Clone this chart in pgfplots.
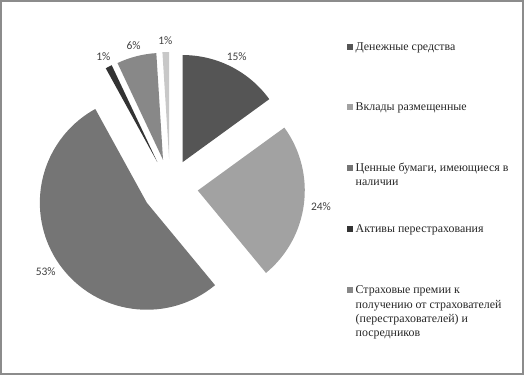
\documentclass[border=0pt]{standalone}
\usepackage{pgfplots}
\pgfplotsset{compat=1.18}
\usepackage{pgfplotstable}
\usepackage{fontspec}
\setmainfont{Liberation Serif}
\newfontfamily\labelfont{Carlito}
\definecolor{c1}{HTML}{555555}
\definecolor{c2}{HTML}{A2A2A2}
\definecolor{c3}{HTML}{757575}
\definecolor{c4}{HTML}{333333}
\definecolor{c5}{HTML}{888888}
\definecolor{c6}{HTML}{C8C8C8}
\definecolor{labelgray}{HTML}{404040}
\definecolor{textgray}{HTML}{262626}
\definecolor{framegray}{HTML}{8C8C8C}

\pgfplotstableread{
value col
15 c1
24 c2
53 c3
1 c4
6 c5
1 c6
}\piedata

\begin{document}
\begin{tikzpicture}
\begin{axis}[scale only axis, width=524pt, height=375pt,
  xmin=0, xmax=524, ymin=0, ymax=375, hide axis, clip=false]
\draw[framegray, line width=2pt] (axis cs:1,1) rectangle (axis cs:523,374);
\pgfplotstablegetrowsof{\piedata}
\pgfmathtruncatemacro{\N}{\pgfplotsretval-1}
\def\cum{0}
\pgfplotsforeachungrouped \i in {0,...,\N}{%
  \pgfplotstablegetelem{\i}{value}\of\piedata \let\v\pgfplotsretval
  \pgfplotstablegetelem{\i}{col}\of\piedata \let\c\pgfplotsretval
  \pgfmathsetmacro{\a}{90-3.6*\cum}%
  \pgfmathsetmacro{\b}{90-3.6*(\cum+\v)}%
  \pgfmathsetmacro{\m}{(\a+\b)/2}%
  \pgfmathsetmacro{\an}{\m+180}%
  \pgfmathsetmacro{\vx}{170+28*cos(\m)}%
  \pgfmathsetmacro{\vy}{188+28*sin(\m)}%
  \edef\temp{%
    \noexpand\fill[\c] (axis cs:\vx,\vy) -- ++(\a:107pt) arc[start angle=\a, end angle=\b, radius=107pt] -- cycle;
    \noexpand\path (axis cs:\vx,\vy) ++(\m:113pt) node[anchor=\an, inner sep=1pt, text=labelgray, font=\noexpand\labelfont\noexpand\fontsize{11.5}{13}\noexpand\selectfont] {\v\noexpand\%};
  }%
  \temp
  \pgfmathsetmacro{\cum}{\cum+\v}%
}
% legend
\newcommand{\legentry}[3]{%
  \fill[#1] (axis cs:347,#2-3) rectangle (axis cs:353,#2+3);
  \node[anchor=base west, inner sep=0pt, text=textgray, font=\fontsize{11.9}{14.2}\selectfont] at (axis cs:355.5,#2-3.8) {\begin{tabular}[t]{@{}l@{}}#3\end{tabular}};
}
\legentry{c1}{328}{Денежные средства}
\legentry{c2}{268}{Вклады размещенные}
\legentry{c3}{207}{Ценные бумаги, имеющиеся в\\наличии}
\legentry{c4}{146}{Активы перестрахования}
\legentry{c5}{85}{Страховые премии к\\получению от страхователей\\(перестрахователей) и\\посредников}
\end{axis}
\end{tikzpicture}
\end{document}
